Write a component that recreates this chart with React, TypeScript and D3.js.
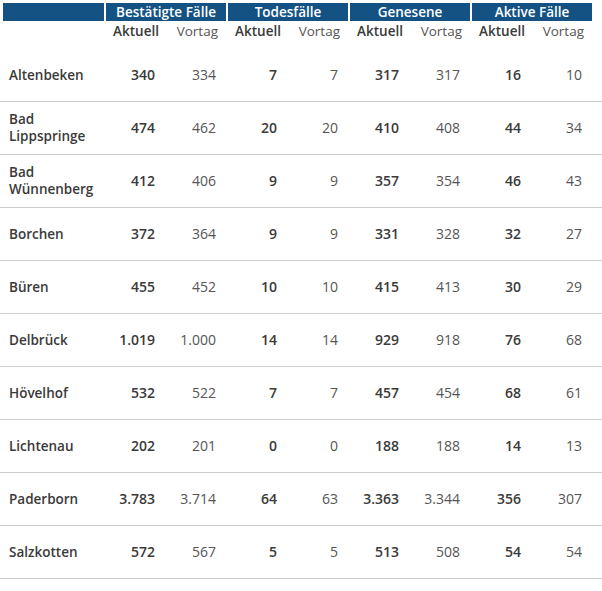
import React from 'react';
import * as d3 from 'd3';

const gemeinden = ['Altenbeken', 'Bad Lippspringe', 'Bad Wünnenberg', 'Borchen', 'Büren', 'Delbrück', 'Hövelhof', 'Lichtenau', 'Paderborn', 'Salzkotten'];
const groups = ['Bestätigte Fälle', 'Todesfälle', 'Genesene', 'Aktive Fälle'];
const subHeaders = ['Aktuell', 'Vortag'];

const bestaetigtAktuell = [340, 474, 412, 372, 455, 1019, 532, 202, 3783, 572];
const bestaetigtVortag = [334, 462, 406, 364, 452, 1000, 522, 201, 3714, 567];
const todesAktuell = [7, 20, 9, 9, 10, 14, 7, 0, 64, 5];
const todesVortag = [7, 20, 9, 9, 10, 14, 7, 0, 63, 5];
const genesenAktuell = [317, 410, 357, 331, 415, 929, 457, 188, 3363, 513];
const genesenVortag = [317, 408, 354, 328, 413, 918, 454, 188, 3344, 508];
const aktivAktuell = [16, 44, 46, 32, 30, 76, 68, 14, 356, 54];
const aktivVortag = [10, 34, 43, 27, 29, 68, 61, 13, 307, 54];

const series = [
  [bestaetigtAktuell, bestaetigtVortag],
  [todesAktuell, todesVortag],
  [genesenAktuell, genesenVortag],
  [aktivAktuell, aktivVortag],
];

const fmt = d3.formatLocale({ decimal: ',', thousands: '.', grouping: [3], currency: ['', ' €'] }).format(',d');

const W = 602;
const H = 591;
const BLUE = '#135283';
const FONT = '"Open Sans", "Noto Sans", sans-serif';

export default function App() {
  // group columns
  const x = d3.scaleBand().domain(groups).range([106, 106 + 122 * groups.length]);
  // rows
  const y = d3.scaleBand().domain(gemeinden).range([48, 48 + 53 * gemeinden.length]);

  return (
    <svg width={W} height={H} style={{ position: 'absolute', left: 0, top: 0, background: '#fff' }} fontFamily={FONT}>
      {/* header bar */}
      <rect x={3} y={3} width={101} height={18} fill={BLUE} />
      {groups.map((g) => (
        <g key={g}>
          <rect x={x(g)} y={3} width={x.bandwidth() - 2} height={18} fill={BLUE} />
          <text x={x(g)! + (x.bandwidth() - 2) / 2} y={17} textAnchor="middle" fill="#fff" fontSize={13.5} fontWeight={600}>
            {g}
          </text>
          {subHeaders.map((s, i) => (
            <text key={s} x={x(g)! + (i === 0 ? 53 : 112)} y={36} textAnchor="end"
              fill={i === 0 ? '#3a3a3a' : '#555'} fontSize={13.5} fontWeight={i === 0 ? 600 : 400}>
              {s}
            </text>
          ))}
        </g>
      ))}

      {gemeinden.map((name, r) => {
        const top = y(name)!;
        const cy = top + y.bandwidth() / 2;
        const parts = name.startsWith('Bad ') ? ['Bad', name.slice(4)] : [name];
        return (
          <g key={name}>
            {parts.map((p, i) => (
              <text key={p} x={9} y={cy + 5 + (i - (parts.length - 1) / 2) * 17}
                fill="#3a3a3a" fontSize={13.5} fontWeight={600}>
                {p}
              </text>
            ))}
            {groups.map((g, gi) =>
              series[gi].map((vals, k) => (
                <text key={g + k} x={x(g)! + (k === 0 ? 49 : 110)} y={cy + 5} textAnchor="end"
                  fill={k === 0 ? '#3a3a3a' : '#555'} fontSize={14} fontWeight={k === 0 ? 600 : 400}>
                  {fmt(vals[r])}
                </text>
              ))
            )}
            <line x1={0} x2={W} y1={top + y.bandwidth() + 0.5} y2={top + y.bandwidth() + 0.5} stroke="#cccccc" strokeWidth={1} />
          </g>
        );
      })}
    </svg>
  );
}
